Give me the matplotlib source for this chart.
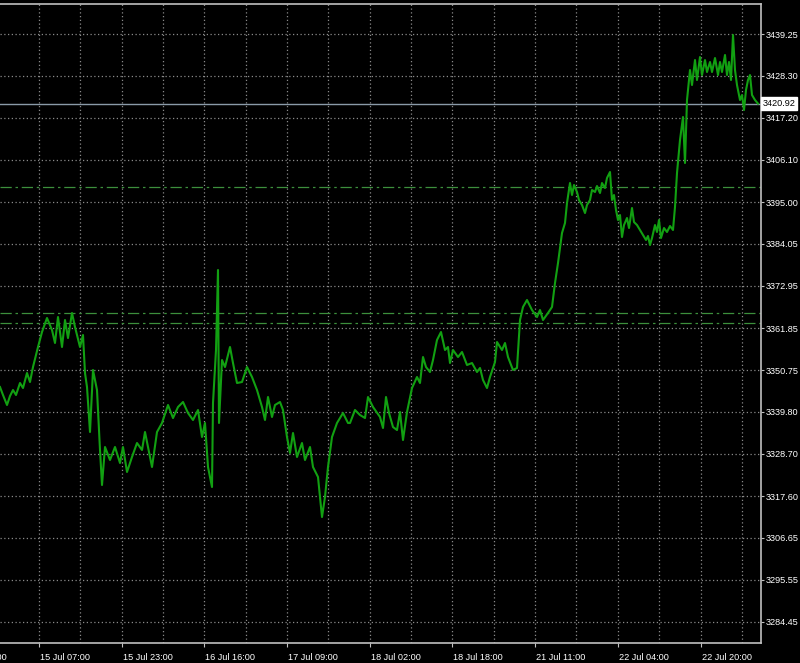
"""
Price chart in the MT4 style: black background, green close line,
dotted grid, price scale on the right and time labels along the bottom.
"""

import matplotlib
matplotlib.use("Agg")
import matplotlib.pyplot as plt

# bar index (one bar per screen column) and close price
bars = [
    0, 3, 7, 10, 13, 16, 20, 23, 27, 30, 33, 38, 42, 47, 52, 55, 58, 62, 65,
    68, 72, 75, 80, 83, 85, 87, 90, 93, 97, 100, 102, 105, 110, 115, 120, 123,
    127, 132, 137, 142, 145, 148, 152, 157, 162, 168, 173, 178, 183, 188, 193,
    198, 202, 205, 208, 212, 213, 216, 218, 219, 222, 225, 230, 233, 237, 242,
    247, 252, 257, 262, 265, 268, 272, 275, 280, 283, 287, 290, 293, 297, 302,
    305, 310, 313, 318, 322, 325, 328, 332, 337, 343, 348, 350, 355, 360, 365,
    368, 373, 380, 383, 386, 389, 393, 397, 400, 403, 407, 412, 417, 420, 423,
    426, 430, 433, 437, 441, 445, 448, 450, 453, 458, 462, 467, 472, 477, 480,
    483, 487, 490, 495, 497, 502, 505, 508, 513, 517, 520, 523, 527, 532, 537,
    540, 543, 548, 552, 555, 558, 562, 565, 567, 570, 572, 574, 577, 579, 582,
    585, 587, 590, 592, 595, 597, 600, 602, 605, 607, 610, 612, 614, 616, 618,
    620, 622, 624, 627, 629, 632, 634, 637, 640, 643, 646, 648, 650, 652, 655,
    657, 659, 661, 664, 667, 670, 673, 675, 677, 680, 683, 685, 687, 688, 690,
    692, 695, 697, 700, 702, 705, 707, 710, 712, 715, 718, 720, 722, 725, 727,
    729, 731, 733, 735, 737, 740, 742, 744, 746, 748, 750, 752, 755, 758,
]
close = [
    3346.31, 3344.21, 3341.58, 3343.95, 3345.52, 3344.21, 3347.37, 3346.05,
    3350.00, 3347.63, 3351.58, 3356.85, 3360.79, 3364.48, 3361.32, 3357.90,
    3364.74, 3356.85, 3363.95, 3359.21, 3365.80, 3362.11, 3356.85, 3360.00,
    3350.00, 3346.31, 3334.47, 3350.79, 3345.52, 3329.73, 3320.51, 3330.52,
    3327.10, 3330.52, 3326.31, 3330.52, 3323.94, 3327.89, 3331.57, 3329.73,
    3334.47, 3330.52, 3325.25, 3334.47, 3336.84, 3341.58, 3338.15, 3341.05,
    3342.37, 3339.47, 3337.63, 3340.26, 3333.15, 3336.84, 3325.25, 3319.99,
    3342.10, 3356.06, 3377.12, 3336.84, 3353.42, 3351.58, 3356.85, 3352.63,
    3347.37, 3347.63, 3351.58, 3348.95, 3345.52, 3341.05, 3337.63, 3343.68,
    3338.42, 3341.58, 3342.37, 3340.26, 3333.15, 3328.94, 3334.20, 3327.89,
    3331.57, 3327.10, 3330.52, 3325.25, 3322.62, 3312.09, 3317.36, 3325.25,
    3333.15, 3336.84, 3339.47, 3336.84, 3336.84, 3340.26, 3338.94, 3338.15,
    3343.68, 3341.05, 3338.42, 3335.52, 3343.68, 3339.47, 3335.78, 3334.99,
    3339.73, 3332.36, 3339.73, 3346.05, 3348.95, 3347.37, 3354.21, 3351.58,
    3350.26, 3353.42, 3358.69, 3360.79, 3356.06, 3356.85, 3352.63, 3356.06,
    3354.21, 3355.53, 3352.11, 3352.63, 3350.26, 3351.32, 3348.16, 3346.05,
    3348.95, 3352.90, 3358.16, 3356.06, 3357.90, 3354.21, 3350.79, 3351.32,
    3363.95, 3367.38, 3369.22, 3366.59, 3364.74, 3366.59, 3363.95, 3365.80,
    3367.38, 3373.69, 3378.96, 3386.86, 3389.49, 3394.76, 3400.02, 3396.86,
    3399.50, 3397.65, 3395.55, 3394.23, 3392.12, 3394.23, 3395.55, 3398.18,
    3397.65, 3399.23, 3397.39, 3400.02, 3398.71, 3401.34, 3402.92, 3395.55,
    3396.86, 3392.91, 3390.28, 3391.60, 3385.81, 3388.96, 3390.81, 3388.17,
    3393.44, 3389.75, 3388.96, 3387.65, 3386.33, 3385.02, 3386.07, 3383.70,
    3385.54, 3388.96, 3387.12, 3390.28, 3385.54, 3388.17, 3387.12, 3388.70,
    3387.65, 3393.70, 3402.65, 3411.34, 3417.40, 3405.29, 3421.87, 3424.51,
    3429.77, 3425.82, 3432.40, 3427.14, 3433.19, 3428.45, 3432.40, 3429.24,
    3431.88, 3429.24, 3432.93, 3428.45, 3431.88, 3429.24, 3433.72, 3428.45,
    3431.88, 3427.14, 3438.99, 3429.77, 3425.82, 3421.87, 3423.19, 3419.24,
    3424.51, 3427.14, 3428.45, 3423.19, 3421.87, 3420.92,
]

current_price = 3420.92
level_prices = [3399.00, 3365.80, 3363.20]

price_ticks = [
    3439.25, 3428.30, 3417.20, 3406.10, 3395.00, 3384.05, 3372.95, 3361.85,
    3350.75, 3339.80, 3328.70, 3317.60, 3306.65, 3295.55, 3284.45,
]
time_tick_bars = [-44, 39, 122, 204, 287, 370, 452, 535, 618, 701]
time_tick_labels = [
    "14 Jul 14:00", "15 Jul 07:00", "15 Jul 23:00", "16 Jul 16:00",
    "17 Jul 09:00", "18 Jul 02:00", "18 Jul 18:00", "21 Jul 11:00",
    "22 Jul 04:00", "22 Jul 20:00",
]
grid_bars = [-3, 39, 80, 122, 163, 204, 246, 287, 328, 370, 411, 452,
             494, 535, 576, 618, 659, 701, 742]

FONT = "Liberation Sans"
FRAME = "#c0c0c0"
GRID = "#8a8a8a"
SIZE = 6.6


def main():
    fig = plt.figure(figsize=(8.0, 6.63), dpi=100, facecolor="black")
    ax = fig.add_axes([0.0, 20 / 663, 761 / 800, 639 / 663])
    ax.set_facecolor("black")

    ax.set_xlim(0, 761)
    ax.set_ylim(3278.92, 3447.15)

    # dotted grid
    for gx in grid_bars:
        ax.axvline(gx, color=GRID, linestyle=(0, (1, 2)), linewidth=0.9, zorder=1)
    for py in price_ticks:
        ax.axhline(py, color=GRID, linestyle=(0, (1, 2)), linewidth=0.9, zorder=1)

    # dash-dot level lines
    for lv in level_prices:
        ax.axhline(lv, color="#3c8f3c", linestyle=(0, (9, 3, 2, 3)),
                   linewidth=0.9, zorder=2)

    # current price line
    ax.axhline(current_price, color="#8a9aa8", linewidth=1.0, zorder=2)

    ax.plot(bars, close, color="#12a012", linewidth=1.5, zorder=3)

    ax.spines["left"].set_visible(False)
    for side in ("top", "right", "bottom"):
        ax.spines[side].set_color(FRAME)
        ax.spines[side].set_linewidth(1.2)

    ax.yaxis.tick_right()
    ax.set_yticks(price_ticks)
    ax.set_yticklabels([f"{p:.2f}" for p in price_ticks])
    ax.tick_params(axis="y", colors=FRAME, length=2, width=0.8, pad=1.5,
                   labelsize=SIZE, labelcolor="white")
    for lab in ax.get_yticklabels():
        lab.set_family(FONT)

    ax.set_xticks([b for b in time_tick_bars if b >= 0])
    ax.set_xticklabels([])
    ax.tick_params(axis="x", colors=FRAME, length=3, width=0.8)
    for b, lab in zip(time_tick_bars, time_tick_labels):
        ax.text(b + 1, -0.015, lab, transform=ax.get_xaxis_transform(),
                ha="left", va="top", color="white", fontsize=SIZE,
                family=FONT, clip_on=False)

    ax.text(1.002, current_price, f"{current_price:.2f}",
            transform=ax.get_yaxis_transform(), ha="left", va="center",
            color="black", fontsize=SIZE, family=FONT, clip_on=False,
            bbox=dict(boxstyle="square,pad=0.2", facecolor="white",
                      edgecolor="white"))

    fig.savefig("out.png", dpi=100, facecolor="black")
    plt.close(fig)


if __name__ == "__main__":
    main()
